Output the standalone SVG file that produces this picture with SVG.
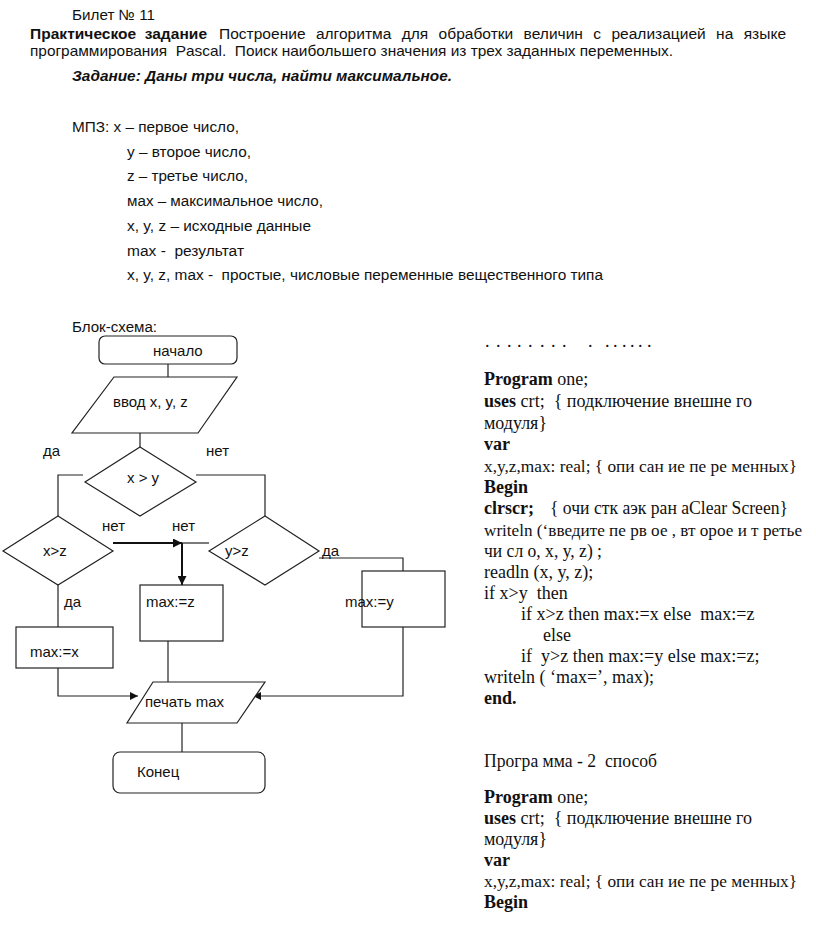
<svg xmlns="http://www.w3.org/2000/svg" width="816" height="933" viewBox="0 0 816 933">
<style>
.s{font-family:"Liberation Sans",Arial,sans-serif;fill:#111}
.h{font-size:14px}
.f{font-size:15px}
.c{font-family:"Liberation Serif","Times New Roman",serif;font-size:18px;fill:#111}
.cs{font-size:16.5px}
.b{font-weight:bold}
.shape{fill:#fff;stroke:#222;stroke-width:1.2}
.ln{fill:none;stroke:#222;stroke-width:1.2}
.bl{fill:none;stroke:#111;stroke-width:2}
</style>
<defs>
<marker id="ah" viewBox="0 0 10 10" refX="10" refY="5" markerWidth="8" markerHeight="8" markerUnits="userSpaceOnUse" orient="auto">
<path d="M0,0 L10,5 L0,10 z" fill="#111"/>
</marker>
<marker id="ahb" viewBox="0 0 10 10" refX="10" refY="5" markerWidth="9" markerHeight="9" markerUnits="userSpaceOnUse" orient="auto">
<path d="M0,0 L10,5 L0,10 z" fill="#111"/>
</marker>
</defs>
<rect width="816" height="933" fill="#fff"/>

<g id="header">
<text class="s" x="72" y="20" font-size="15" textLength="83" lengthAdjust="spacingAndGlyphs">Билет № 11</text>
<text class="s b" font-size="15.5" x="30" y="39" word-spacing="4" textLength="177" lengthAdjust="spacing">Практическое задание</text>
<text class="s" font-size="15.5" x="219" y="39" word-spacing="6" textLength="567" lengthAdjust="spacing">Построение алгоритма для обработки величин с реализацией на языке</text>
<text class="s" font-size="14.5" x="30" y="56" xml:space="preserve" textLength="643" lengthAdjust="spacingAndGlyphs">программирования  Pascal.  Поиск наибольшего значения из трех заданных переменных.</text>
<text class="s b" x="72" y="81" font-size="15" font-style="italic" textLength="380" lengthAdjust="spacingAndGlyphs">Задание: Даны три числа, найти максимальное.</text>
</g>

<g id="mpz">
<text class="s h" x="72" y="132" textLength="167" lengthAdjust="spacingAndGlyphs">МПЗ: x – первое число,</text>
<text class="s h" x="127" y="156.5" textLength="124" lengthAdjust="spacingAndGlyphs">y – второе число,</text>
<text class="s h" x="127" y="181" textLength="121" lengthAdjust="spacingAndGlyphs">z – третье число,</text>
<text class="s h" x="127" y="206" textLength="196" lengthAdjust="spacingAndGlyphs">мах – максимальное число,</text>
<text class="s h" x="127" y="231" textLength="184" lengthAdjust="spacingAndGlyphs">x, y, z – исходные данные</text>
<text class="s h" x="127" y="256" xml:space="preserve" textLength="117" lengthAdjust="spacingAndGlyphs">max -  результат</text>
<text class="s h" x="127" y="280" xml:space="preserve" textLength="476" lengthAdjust="spacingAndGlyphs">x, y, z, max -  простые, числовые переменные вещественного типа</text>
<text class="s h" x="72" y="332" textLength="85" lengthAdjust="spacingAndGlyphs">Блок-схема:</text>
</g>

<g id="connectors">
<path class="ln" d="M168,364 V377"/>
<path class="ln" d="M140,433 V447"/>
<path class="ln" d="M83,475 H58 V516"/>
<path class="ln" d="M196,475 H265 V516"/>
<path class="ln" d="M58,585 V627"/>
<path class="bl" d="M113,543 H182" marker-end="url(#ahb)"/>
<path class="ln" d="M182,543 H209"/>
<path class="bl" d="M182,543 V585" marker-end="url(#ahb)"/>
<path class="ln" d="M319,558 H403 V571"/>
<path class="ln" d="M58,668 V696 H138" marker-end="url(#ah)"/>
<path class="ln" d="M168,641 V682"/>
<path class="ln" d="M403,627 V696 H253" marker-end="url(#ah)"/>
<path class="ln" d="M182,723 V752"/>
</g>

<g id="n-start">
<rect class="shape" x="99" y="336" width="138" height="28" rx="6"/>
<text class="s f" x="153" y="356">начало</text>
</g>
<g id="n-input">
<path class="shape" d="M114,377 H237 L198,433 H72 Z"/>
<text class="s f" x="113" y="407">ввод x, y, z</text>
</g>
<g id="n-xy">
<path class="shape" d="M140,447 L196,482 L140,516 L85,482 Z"/>
<text class="s f" x="127" y="483">x &gt; y</text>
<text class="s f" x="43" y="456">да</text>
<text class="s f" x="206" y="456">нет</text>
</g>
<g id="n-xz">
<path class="shape" d="M58,516 L113,551 L58,585 L3,551 Z"/>
<text class="s f" x="43" y="556">x&gt;z</text>
<text class="s f" x="102" y="531">нет</text>
<text class="s f" x="64" y="607">да</text>
</g>
<g id="n-yz">
<path class="shape" d="M265,516 L319,551 L265,585 L209,551 Z"/>
<text class="s f" x="225" y="556">y&gt;z</text>
<text class="s f" x="172" y="531">нет</text>
<text class="s f" x="322" y="556">да</text>
</g>
<g id="n-maxx">
<rect class="shape" x="16" y="627" width="97" height="41"/>
<text class="s f" x="30" y="657">max:=x</text>
</g>
<g id="n-maxz">
<rect class="shape" x="140" y="585" width="83" height="56"/>
<text class="s f" x="146" y="607">max:=z</text>
</g>
<g id="n-maxy">
<rect class="shape" x="362" y="571" width="83" height="56"/>
<text class="s f" x="345" y="607">max:=y</text>
</g>
<g id="n-print">
<path class="shape" d="M153,682 H265 L237,723 H127 Z"/>
<text class="s f" x="145" y="707">печать max</text>
</g>
<g id="n-end">
<rect class="shape" x="113" y="752" width="152" height="41" rx="7"/>
<text class="s f" x="137" y="777">Конец</text>
</g>

<g id="code1">
<text class="c" x="485 496 507 517 528 540 551 562 588 605 613 622 630 638 647" y="347" font-size="12">...............</text>
<text class="c" x="484" y="385"><tspan class="b">Program</tspan> one;</text>
<text class="c" x="484" y="407" xml:space="preserve" textLength="268" lengthAdjust="spacingAndGlyphs"><tspan class="b">uses</tspan> crt;  { подключение внешне го</text>
<text class="c" x="484" y="429" textLength="63" lengthAdjust="spacingAndGlyphs">модуля}</text>
<text class="c b" x="484" y="450">var</text>
<text class="c cs" x="484" y="472" textLength="313" lengthAdjust="spacingAndGlyphs">x,y,z,max: real; { опи сан ие пе ре менных}</text>
<text class="c b" x="484" y="493">Begin</text>
<text class="c b" x="484" y="514">clrscr;</text>
<text class="c" x="550" y="514" textLength="238" lengthAdjust="spacingAndGlyphs">{ очи стк аэк ран аClear Screen}</text>
<text class="c cs" x="484" y="536" textLength="318" lengthAdjust="spacingAndGlyphs">writeln (‘введите пе рв ое , вт орое и т ретье</text>
<text class="c" x="484" y="557" textLength="118" lengthAdjust="spacingAndGlyphs">чи сл о, x, y, z) ;</text>
<text class="c" x="484" y="578">readln (x, y, z);</text>
<text class="c" x="484" y="599" xml:space="preserve">if x&gt;y  then</text>
<text class="c" x="521" y="620" xml:space="preserve">if x&gt;z then max:=x else  max:=z</text>
<text class="c" x="543" y="641">else</text>
<text class="c" x="521" y="662" xml:space="preserve">if  y&gt;z then max:=y else max:=z;</text>
<text class="c" x="484" y="683">writeln ( ‘max=’, max);</text>
<text class="c b" x="484" y="704">end.</text>
</g>

<g id="code2">
<text class="c" x="484" y="767" xml:space="preserve" textLength="173" lengthAdjust="spacingAndGlyphs">Програ мма - 2  способ</text>
<text class="c" x="484" y="803"><tspan class="b">Program</tspan> one;</text>
<text class="c" x="484" y="824" xml:space="preserve" textLength="268" lengthAdjust="spacingAndGlyphs"><tspan class="b">uses</tspan> crt;  { подключение внешне го</text>
<text class="c" x="484" y="845" textLength="63" lengthAdjust="spacingAndGlyphs">модуля}</text>
<text class="c b" x="484" y="866">var</text>
<text class="c cs" x="484" y="887" textLength="313" lengthAdjust="spacingAndGlyphs">x,y,z,max: real; { опи сан ие пе ре менных}</text>
<text class="c b" x="484" y="908">Begin</text>
</g>
</svg>
